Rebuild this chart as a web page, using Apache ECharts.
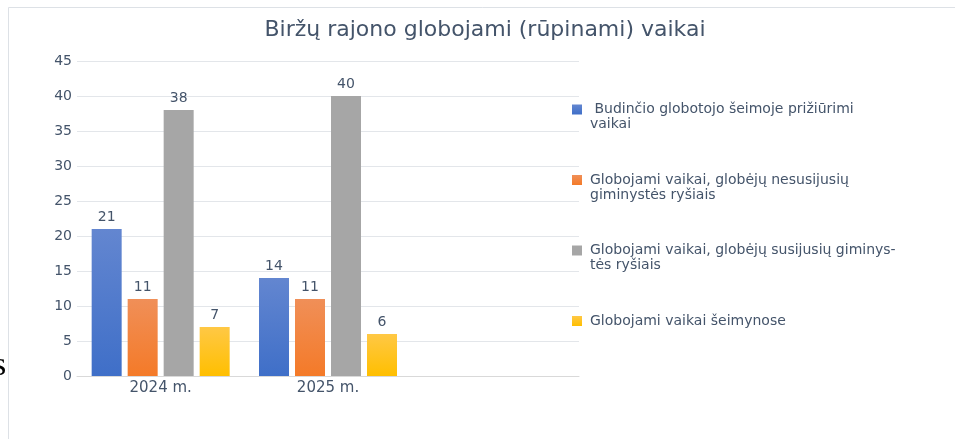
<!DOCTYPE html>
<html>
<head>
<meta charset="utf-8">
<script src="https://cdn.jsdelivr.net/npm/echarts@6/dist/echarts.min.js"></script>
<style>html,body{margin:0;padding:0;background:#fff;}#c{width:955px;height:439px;}</style>
</head>
<body>
<div id="c"></div>
<script>
const titleText = 'Biržų rajono globojami (rūpinami) vaikai';
const categories = ['2024 m.', '2025 m.', ''];
const seriesNames = [
  ' Budinčio globotojo šeimoje prižiūrimi vaikai',
  'Globojami vaikai, globėjų nesusijusių giminystės ryšiais',
  'Globojami vaikai, globėjų susijusių giminystės ryšiais',
  'Globojami vaikai šeimynose'
];
const legendLabels = [
  ' Budinčio globotojo šeimoje prižiūrimi\nvaikai',
  'Globojami vaikai, globėjų nesusijusių\ngiminystės ryšiais',
  'Globojami vaikai, globėjų susijusių giminys-\ntės ryšiais',
  'Globojami vaikai šeimynose'
];
const budincio = [21, 14, null];
const nesusijusiu = [11, 11, null];
const susijusiu = [38, 40, null];
const seimynose = [7, 6, null];
const yTicks = [0, 5, 10, 15, 20, 25, 30, 35, 40, 45];

const values = [budincio, nesusijusiu, susijusiu, seimynose];
const gradients = [
  ['#6386d0', '#3f6fc8'],
  ['#f08f58', '#f47a28'],
  ['#a6a6a6', '#a6a6a6'],
  ['#ffc845', '#ffbf00']
];
const textColor = '#44546a';
const font = '"DejaVu Sans", sans-serif';

const chart = echarts.init(document.getElementById('c'));
chart.setOption({
  animation: false,
  backgroundColor: '#fff',
  title: {
    text: titleText,
    left: 480, top: 14, textAlign: 'center',
    textStyle: { fontFamily: font, fontSize: 22, fontWeight: 'normal', color: textColor }
  },
  graphic: [
    { type: 'rect', shape: { x: 8.5, y: 7.5, width: 1200, height: 1000 },
      style: { fill: 'none', stroke: '#dde1e6', lineWidth: 1 }, silent: true },
    { type: 'text', x: -7, y: 349, style: { text: 's', font: '34px "Liberation Serif", serif', fill: '#000' }, silent: true }
  ],
  legend: {
    orient: 'vertical',
    left: 572, top: 87, padding: 0,
    itemWidth: 10, itemHeight: 10, itemGap: 25.5,
    icon: 'rect',
    data: seriesNames,
    formatter: function (name) {
      const t = legendLabels[seriesNames.indexOf(name)];
      return '\n' + t + (t.indexOf('\n') < 0 ? '\n' : '');
    },
    textStyle: { fontFamily: font, fontSize: 14, color: textColor, lineHeight: 15, padding: [0, 0, 0, 3] }
  },
  grid: { left: 77, right: 376, top: 61, bottom: 63, containLabel: false },
  xAxis: {
    type: 'category',
    data: categories,
    axisTick: { show: false },
    axisLine: { lineStyle: { color: '#d9d9d9', width: 1 } },
    axisLabel: { fontFamily: font, fontSize: 15, color: textColor, margin: 5 }
  },
  yAxis: {
    type: 'value', min: yTicks[0], max: yTicks[yTicks.length - 1], interval: 5,
    axisLine: { show: false }, axisTick: { show: false },
    axisLabel: { fontFamily: font, fontSize: 14, color: textColor, margin: 5 },
    splitLine: { lineStyle: { color: '#e3e6ea', width: 1 } }
  },
  series: values.map((v, i) => ({
    name: seriesNames[i],
    type: 'bar',
    data: v,
    barWidth: 30,
    barGap: '20%',
    itemStyle: {
      color: new echarts.graphic.LinearGradient(0, 0, 0, 1, [
        { offset: 0, color: gradients[i][0] },
        { offset: 1, color: gradients[i][1] }
      ])
    },
    label: {
      show: true, position: 'top', distance: 5,
      fontFamily: font, fontSize: 14, color: textColor
    }
  }))
});
</script>
</body>
</html>
